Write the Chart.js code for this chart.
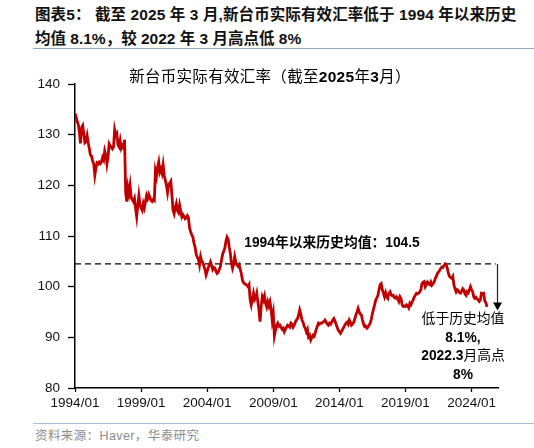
<!DOCTYPE html>
<html>
<head>
<meta charset="utf-8">
<script src="https://cdn.jsdelivr.net/npm/chart.js@4.4.1/dist/chart.umd.min.js"></script>
<style>
html,body{margin:0;padding:0;background:#fff;}
body{width:534px;height:448px;position:relative;overflow:hidden;font-family:"Liberation Sans","Noto Sans CJK SC",sans-serif;color:#000;}
.abs{position:absolute;white-space:nowrap;}
b{font-weight:bold;}
#h1{left:35px;top:5px;font-size:15.5px;font-weight:bold;line-height:20px;color:#111;letter-spacing:0.1px;}
#h2{left:35px;top:29px;font-size:15.5px;font-weight:bold;line-height:20px;color:#111;}
.rule{position:absolute;left:33px;width:501px;height:0;border-top:1.5px solid #8fa9cf;}
#title{left:0;width:540px;text-align:center;top:67px;font-size:15.5px;line-height:20px;font-weight:normal;letter-spacing:0.3px;}
#avgLabel{left:332px;top:233px;transform:translateX(-50%);font-size:13.8px;font-weight:bold;line-height:20px;}
#note{left:463px;top:310px;transform:translateX(-50%);text-align:center;font-size:13.8px;font-weight:normal;line-height:18.5px;}
#src{left:35px;top:428px;font-size:12.5px;line-height:16px;color:#8c8c8c;letter-spacing:0.4px;}
#wrap{position:absolute;left:0;top:64px;width:534px;height:356px;}
</style>
</head>
<body>
<div id="h1" class="abs">图表5： 截至 2025 年 3 月,新台币实际有效汇率低于 1994 年以来历史</div>
<div id="h2" class="abs">均值 8.1%，较 2022 年 3 月高点低 8%</div>
<div class="rule" style="top:48px"></div>
<div id="wrap"><canvas id="c"></canvas></div>
<div id="title" class="abs">新台币实际有效汇率（截至<b>2025</b>年<b>3</b>月）</div>
<div id="avgLabel" class="abs">1994年以来历史均值：104.5</div>
<div id="note" class="abs">低于历史均值<br><b>8.1%,</b><br><b>2022.3</b>月高点<br><b>8%</b></div>
<div class="rule" style="top:423px;border-top-color:#a9bedb"></div>
<div id="src" class="abs">资料来源：Haver，华泰研究</div>
<script>
// Monthly real effective exchange rate of the New Taiwan dollar, starting 1994/01
const startYear = 1994;
const reer = [
  134.2,133.5,132.6,132.0,130.4,128.3,131.4,131.8,130.2,128.4,128.6,129.8, // 1994
  128.4,127.2,126.0,125.8,124.8,124.3,122.0,123.4,124.4,124.2,124.6,124.3, // 1995
  124.6,125.5,125.0,126.8,126.0,124.2,125.6,128.2,127.8,127.5,127.2,127.6, // 1996
  130.9,129.8,130.2,128.0,127.6,128.8,127.3,127.8,127.4,129.0,118.6,116.8, // 1997
  119.6,118.4,120.0,117.6,117.2,116.8,117.4,115.4,113.8,116.0,118.0,116.2, // 1998
  115.6,115.1,116.4,115.6,116.8,118.0,117.4,118.2,117.6,117.0,116.8,117.2, // 1999
  117.0,122.8,121.8,123.6,124.6,122.6,123.2,122.4,124.0,122.0,121.0,120.0, // 2000
  118.6,120.2,120.4,120.8,118.0,115.1,114.4,115.6,116.4,115.0,114.6,116.1, // 2001
  115.0,113.8,114.2,113.8,113.4,113.6,114.0,113.6,111.6,110.8,110.2,109.8, // 2002
  108.6,107.8,106.4,105.8,105.4,104.3,105.9,105.0,104.8,104.1,103.4,102.3, // 2003
  103.0,103.8,104.3,104.9,104.2,103.4,103.8,103.7,103.0,102.6,102.8,103.4, // 2004
  104.0,105.2,106.4,107.0,107.6,108.9,109.8,109.4,107.8,106.6,104.6,103.6, // 2005
  104.4,105.9,104.8,104.3,104.0,104.3,103.4,102.6,101.3,100.8,100.6,100.4, // 2006
  100.3,100.0,100.4,97.4,96.4,97.6,98.7,97.4,97.8,98.7,97.0,95.4,          // 2007
  93.1,96.1,98.0,97.4,98.2,96.7,96.0,97.0,96.2,97.0,95.6,93.4,             // 2008
  94.7,90.3,91.4,92.4,92.8,92.2,92.4,92.0,91.6,91.8,91.1,91.6,             // 2009
  92.0,92.4,92.2,92.0,92.8,92.6,92.0,92.4,93.0,93.4,93.7,94.4,             // 2010
  95.4,94.6,93.4,93.0,92.2,91.8,91.1,91.6,90.1,90.4,89.5,90.0,             // 2011
  90.4,90.2,90.8,91.6,92.2,92.8,92.6,92.8,92.8,93.0,93.1,93.4,             // 2012
  93.0,92.6,92.4,92.8,92.6,93.0,93.4,93.7,93.2,92.6,92.0,91.4,             // 2013
  91.1,90.8,91.2,91.6,92.0,92.4,92.8,93.0,92.6,93.4,93.0,92.4,             // 2014
  92.6,93.0,93.6,94.4,95.0,95.7,95.0,94.6,94.4,93.4,92.6,92.1,             // 2015
  92.2,91.8,92.0,92.4,92.8,93.6,94.7,95.6,96.4,97.4,97.8,98.3,             // 2016
  99.4,100.4,100.6,99.4,98.7,98.0,98.8,98.0,97.7,98.7,99.0,98.4,           // 2017
  98.2,98.3,97.8,97.7,98.0,97.6,97.1,98.0,97.6,96.4,96.1,96.2,             // 2018
  96.1,96.4,96.2,95.8,96.7,96.4,97.0,97.4,98.0,98.3,98.7,98.6,             // 2019
  98.7,99.0,99.4,100.6,100.9,101.0,100.0,100.4,100.9,100.6,100.4,100.9,    // 2020
  100.3,100.6,100.9,101.6,102.0,102.6,102.9,103.2,103.6,103.9,103.8,104.2, // 2021
  104.5,104.3,103.6,102.6,102.0,101.8,101.6,102.0,100.3,99.6,99.0,99.4,    // 2022
  99.2,98.8,98.7,99.1,99.6,99.3,98.6,98.3,99.0,98.8,99.4,100.0,            // 2023
  99.4,99.0,98.0,97.7,97.9,97.6,97.4,97.1,97.4,98.7,98.6,98.7,             // 2024
  97.2,96.8,96.0                                                           // 2025
];
const histAvg = 104.5;          // 1994年以来历史均值
const avgLineEnd = 382;         // month index where the dashed average line stops
const arrowMonth = 383;         // month index of the downward arrow
const arrowTo = 95.3;           // value the arrow points to
const xTickMonths = [0,60,120,180,240,300,360];
const xTickLabels = ['1994/01','1999/01','2004/01','2009/01','2014/01','2019/01','2024/01'];
const xMax = 384;               // 2026/01
const yMin = 80, yMax = 140, yStep = 10;

const lineData = reer.map((v,i)=>({x:i,y:v}));
const avgData = [{x:0,y:histAvg},{x:avgLineEnd,y:histAvg}];

const arrowPlugin = {
  id:'arrow',
  afterDatasetsDraw(chart){
    const {ctx, scales:{x,y}} = chart;
    const px = Math.round(x.getPixelForValue(arrowMonth))+0.5;
    const y0 = y.getPixelForValue(histAvg);
    const y1 = y.getPixelForValue(arrowTo);
    ctx.save();
    ctx.strokeStyle='#222';
    ctx.fillStyle='#000';
    ctx.lineWidth=1.2;
    ctx.beginPath();
    ctx.moveTo(px,y0);
    ctx.lineTo(px,y1-7);
    ctx.stroke();
    ctx.beginPath();
    ctx.moveTo(px-4.5,y1-8);
    ctx.lineTo(px+4.5,y1-8);
    ctx.lineTo(px,y1);
    ctx.closePath();
    ctx.fill();
    ctx.restore();
  }
};

const tickFont = {family:'"Liberation Sans", Arial, sans-serif', size:13.5};

new Chart(document.getElementById('c'),{
  type:'line',
  data:{datasets:[
    {data:lineData,borderColor:'#c00000',borderWidth:2.8,pointRadius:0,tension:0,fill:false,order:1},
    {data:avgData,borderColor:'#000',borderWidth:1.4,borderDash:[6,4],pointRadius:0,fill:false,order:2}
  ]},
  options:{
    responsive:true,maintainAspectRatio:false,animation:false,
    layout:{padding:{top:20,right:36,left:0,bottom:0}},
    plugins:{legend:{display:false},tooltip:{enabled:false},title:{display:false}},
    scales:{
      x:{type:'linear',min:0,max:xMax,
        afterBuildTicks:(s)=>{s.ticks = xTickMonths.map(v=>({value:v}));},
        afterFit:(s)=>{s.height=32;},
        ticks:{autoSkip:false,maxRotation:0,padding:3,color:'#111',font:tickFont,
          callback:(v,i)=>xTickLabels[i]},
        grid:{drawOnChartArea:false,drawTicks:true,tickLength:4,color:'#000',tickWidth:1.3},
        border:{color:'#000',width:1.5}
      },
      y:{min:yMin,max:yMax,
        afterFit:(s)=>{s.width=75;},
        ticks:{stepSize:yStep,padding:8,color:'#111',font:tickFont},
        grid:{drawOnChartArea:false,drawTicks:true,tickLength:7,color:'#000',tickWidth:1.3},
        border:{color:'#000',width:1.5}
      }
    }
  },
  plugins:[arrowPlugin]
});
</script>
</body>
</html>
